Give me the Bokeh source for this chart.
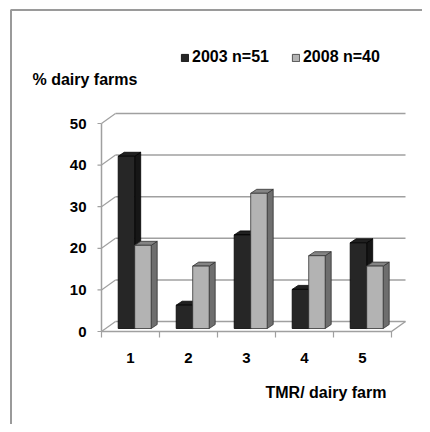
from bokeh.plotting import figure
from bokeh.models import Range1d, Label, Legend, LegendItem
from bokeh.core.properties import value
from bokeh.embed import file_html
from bokeh.resources import INLINE

# ---- data ----
categories = ["1", "2", "3", "4", "5"]
cat_pos = [1, 2, 3, 4, 5]
series_2003 = [41.4, 5.6, 22.5, 9.4, 20.6]
series_2008 = [20.0, 15.0, 32.5, 17.5, 15.0]
legend_labels = ["2003 n=51", "2008 n=40"]
y_ticks = [0, 10, 20, 30, 40, 50]
y_tick_labels = ["0", "10", "20", "30", "40", "50"]
y_title = "% dairy farms"
x_title = "TMR/ dairy farm"

# ---- geometry (pixels) ----
W, H = 422, 424
CAT_PX = 58.0
UNIT_PX = 4.16
AXIS_X_PX = 101.0
ZERO_Y_PX = 331.0

x_start = 0.5 - AXIS_X_PX / CAT_PX
x_end = x_start + W / CAT_PX
y_end = ZERO_Y_PX / UNIT_PX
y_start = y_end - H / UNIT_PX


def dx(px):
    return px / CAT_PX


def dy(px):
    return px / UNIT_PX


def sx2x(px):
    return x_start + px / CAT_PX


def sy2y(px):
    return y_end - px / UNIT_PX


FONT = value("Liberation Sans")

p = figure(width=W, height=H, x_range=Range1d(x_start, x_end), y_range=Range1d(y_start, y_end),
           output_backend="svg", toolbar_location=None, min_border=0,
           x_axis_type=None, y_axis_type=None)
p.grid.visible = False
p.outline_line_color = None
p.background_fill_color = "white"
p.border_fill_color = "white"

GRID = "#a0a0a0"
WALL_DX = dx(14)
WALL_DY = dy(10)
x_left = 0.5
x_right = 0.5 + len(categories)

# chart frame border
p.line([sx2x(10.5), sx2x(10.5), sx2x(W)], [sy2y(H), sy2y(9.5), sy2y(9.5)], line_color="#9a9a9a", line_width=2)

# back wall gridlines
p.segment(x0=[x_left + WALL_DX] * len(y_ticks), y0=[t + WALL_DY for t in y_ticks],
          x1=[x_right + WALL_DX] * len(y_ticks), y1=[t + WALL_DY for t in y_ticks],
          line_color=GRID, line_width=1.5)
# side wall diagonals
p.segment(x0=[x_left] * len(y_ticks), y0=y_ticks,
          x1=[x_left + WALL_DX] * len(y_ticks), y1=[t + WALL_DY for t in y_ticks],
          line_color=GRID, line_width=1.2)
# floor front edge and right edge
p.line([x_left, x_right, x_right + WALL_DX], [0, 0, WALL_DY], line_color=GRID, line_width=1.5)
# vertical axis line
p.line([x_left, x_left], [0, y_ticks[-1]], line_color=GRID, line_width=1.5)
# y ticks
p.segment(x0=[x_left - dx(4)] * len(y_ticks), y0=y_ticks, x1=[x_left] * len(y_ticks), y1=y_ticks,
          line_color=GRID, line_width=1.2)
# x ticks
xt = [0.5 + i for i in range(len(categories) + 1)]
p.segment(x0=xt, y0=[0] * len(xt), x1=xt, y1=[-dy(6)] * len(xt), line_color=GRID, line_width=1.2)

# bars (3D effect)
SX = dx(4.2)
SY = dy(3)
BW = dx(16.5)
DDX = dx(6)
DDY = dy(4)


def faces(vals, offset):
    fr = dict(l=[], r=[], b=[], t=[])
    side_x, side_y, top_x, top_y = [], [], [], []
    for c, v in zip(cat_pos, vals):
        x0 = c + SX + offset
        x1 = x0 + BW
        y0 = SY
        y1 = v + SY
        fr["l"].append(x0); fr["r"].append(x1); fr["b"].append(y0); fr["t"].append(y1)
        side_x.append([x1, x1 + DDX, x1 + DDX, x1])
        side_y.append([y0, y0 + DDY, y1 + DDY, y1])
        top_x.append([x0, x1, x1 + DDX, x0 + DDX])
        top_y.append([y1, y1, y1 + DDY, y1 + DDY])
    return fr, side_x, side_y, top_x, top_y


fr, s_x, s_y, t_x, t_y = faces(series_2003, -BW)
p.patches(s_x, s_y, fill_color="#161616", line_color="#000000", line_width=0.8)
p.patches(t_x, t_y, fill_color="#202020", line_color="#000000", line_width=0.8)
r_dark = p.quad(left=fr["l"], right=fr["r"], bottom=fr["b"], top=fr["t"],
                fill_color="#262626", line_color="#000000", line_width=0.8)

fr, s_x, s_y, t_x, t_y = faces(series_2008, 0)
p.patches(s_x, s_y, fill_color="#6e6e6e", line_color="#333333", line_width=0.8)
p.patches(t_x, t_y, fill_color="#848484", line_color="#333333", line_width=0.8)
r_light = p.quad(left=fr["l"], right=fr["r"], bottom=fr["b"], top=fr["t"],
                 fill_color="#b3b3b3", line_color="#333333", line_width=0.8)

# tick labels
p.text(x=[x_left] * len(y_ticks), y=y_ticks, text=y_tick_labels, x_offset=-15,
       text_align="right", text_baseline="middle", text_font=FONT, text_font_style="bold",
       text_font_size="15px", text_color="black")
p.text(x=cat_pos, y=[0] * len(cat_pos), text=categories, y_offset=26,
       text_align="center", text_baseline="middle", text_font=FONT, text_font_style="bold",
       text_font_size="15px", text_color="black")

# titles
p.add_layout(Label(x=32, y=H - 79, x_units="screen", y_units="screen", text=y_title,
                   text_align="left", text_baseline="middle", text_font="Liberation Sans",
                   text_font_style="bold", text_font_size="16px", text_color="black"))
p.add_layout(Label(x=265, y=H - 392, x_units="screen", y_units="screen", text=x_title,
                   text_align="left", text_baseline="middle", text_font="Liberation Sans",
                   text_font_style="bold", text_font_size="16px", text_color="black"))

legend = Legend(items=[LegendItem(label=legend_labels[0], renderers=[r_dark]),
                       LegendItem(label=legend_labels[1], renderers=[r_light])],
                orientation="horizontal", location=(180, H - 66), glyph_width=9, glyph_height=9,
                label_standoff=3, spacing=22, padding=0, margin=0, border_line_color=None,
                background_fill_alpha=0, label_text_font="Liberation Sans",
                label_text_font_style="bold", label_text_font_size="16px", label_text_color="black")
p.add_layout(legend)

open("out.html", "w").write(file_html(p, INLINE))
